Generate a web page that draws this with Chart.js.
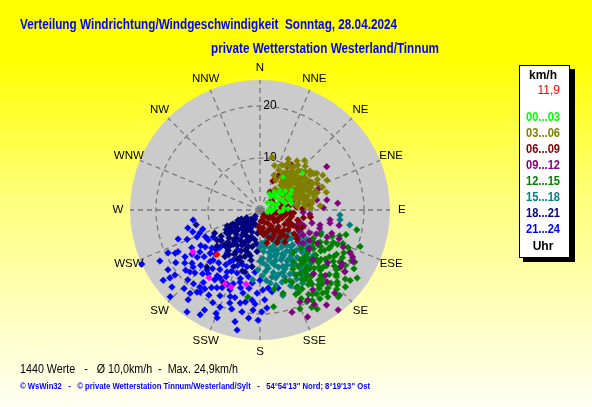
<!DOCTYPE html>
<html lang="de">
<head>
  <meta charset="UTF-8" />
  <title>Windrichtung / Windgeschwindigkeit</title>
  <script src="https://cdn.jsdelivr.net/npm/chart.js"></script>
  <style>
    html, body { margin: 0; padding: 0; }
    body { width: 592px; height: 407px; overflow: hidden;
      background: linear-gradient(to bottom, #ffff00 0%, #ffff00 14%, #ffff80 50%, #fffff4 100%); }
    #chart { position: absolute; left: 0; top: 0; }
  </style>
</head>
<body>
  <canvas id="chart" width="592" height="407"></canvas>
  <script>
    // Richtungen (16er Rose) und Ringe
    const richtungen = ['N','NNE','NE','ENE','E','ESE','SE','SSE','S','SSW','SW','WSW','W','WNW','NW','NNW'];
    const ringe = [10, 20];
    const maxKmh = 25;

    // Messwerte je Zeitraum: [Richtung in Grad, Geschwindigkeit km/h]
    const h00_03 = [[35,7.7],[49,10.8],[45,2],[40,3.2],[50,3.8],[60,4.2],[70,3.6],[80,3],[90,2.4],[55,5.2],[65,5.8],[75,5],[85,4.6],[45,5.4],[38,4.4],[62,6.6],[72,6.2],[48,4.8],[66,2.8],[95,3.8],[100,2.2],[57,2.6],[78,6.1],[88,5.4],[53,6.1],[42,4.1],[82,1.8],[105,1.4],[30,3.6],[58,7.2],[68,4.6],[92,4.4]];
    const h03_06 = [[13,10.4],[42,12.8],[66,14.1],[73,11.5],[81,10.1],[78,9.2],[62,12.5],[55,11.8],[48,11],[38,10.5],[30,9.8],[25,8.5],[35,9],[45,9.5],[52,10],[58,10.8],[64,11],[70,10.2],[76,8.5],[68,8.8],[60,9.3],[50,8.2],[42,7.8],[33,7.5],[28,6.5],[40,6.2],[48,6.8],[56,7.4],[63,7.8],[72,7],[80,7.5],[85,8.8],[66,6.2],[58,5.8],[46,5.2],[36,5],[22,7.2],[18,9],[53,9.2],[61,10],[44,10.6],[37,11.8],[57,13],[70,12.8],[75,13.2],[86,11.6],[88,9.8],[52,12.2],[29,11.2],[41,8.6],[65,9.6],[74,9.5],[82,8.6],[67,7.2],[54,6.3],[32,8.4],[47,7.5],[59,8.4],[70,5.4],[78,6.2],
      [38,6.8],[43,7.1],[47,8.1],[51,7.6],[55,8.6],[60,7.1],[64,8.3],[68,9.9],[72,8.1],[61,6.6],[49,9.1],[44,8.4],[39,9.6],[34,10.2],[58,9.8],[62,11.3],[66,10.5],[71,11.2],[77,10.8],[83,10],[54,10.6],[50,11.4],[46,12.1],[40,11.3],[31,10.6],[26,9.6],[36,7.9],[42,9.1],[56,5.1],[63,5.6],[75,7.8],[69,6.7],[53,7.1],[47,6.1],[59,10.3],[65,12.1],[73,10.6],[80,9.6],[84,7.2],[45,10.2],[51,9.7],[57,8.9],[62,8.8],[67,8.1],[73,8.8],[39,8.2],[35,8.6],[48,5.9],[56,12.5],[61,13.8]];
    const h06_09 = [[35,10.6],[24,6.1],[28,7.5],[30,4],[45,5],[55,6.5],[40,7],[60,8.2],[70,4.5],[80,5],[90,4],[100,5],[110,4.5],[120,5.5],[130,6],[115,7],[105,7.5],[95,6.5],[85,7],[75,6.5],[125,8],[135,7.2],[140,5],[128,3.5],[108,2.5],[90,2],[150,3],[160,2.5],[170,3.5],[165,4.5],[155,4.2],[145,3.8],[175,2.2],[135,2],[120,2.8],[100,3.2],[112,8.8],[100,8.5],[88,8.2],[118,6.5],[102,6.2],[122,4],[145,6.5],[150,5.5],[158,6],[132,4.8],[138,5.8],[148,4.6],[92,4.8],[82,4.2],[113,6.3],[125,6.6],[137,6.5],[128,9],[115,8],[142,7.8],[152,7],[162,5.6],[168,6.5],[172,4.8],[178,3.6],[105,4.2],[118,3.8],[96,5.8],[110,5.8],[130,2.4],[155,1.5],[140,1.2],[80,6],[72,8.8],[65,6],[50,3],[60,2.8],[82,9.5],[98,9.8],[180,3.8],[184,3.2],[176,4.3]];
    const h09_12 = [[57,15.3],[32,9.8],[61,11],[81.5,13],[98,13.6],[101,15.5],[104,10.3],[80,11.1],[93,8.3],[101,4.9],[95,9.6],[100.5,13.7],[107,12],[112,7.7],[120,9.6],[112,13.9],[114,17.5],[115.5,19.2],[119,20.5],[126,20.2],[125,19],[142,24.4],[152,19.6],[156.5,19.3],[146.5,18.4],[138,21.5],[137,18.9],[156,22.5],[162.6,20.6],[123,18.8],[117,20],[108,14.5],[104,11.9],[127.5,10.4],[116,7.9],[110,9],[115,10.5],[122,11.2],[118,8.5],[125,8.8],[130,9.5],[108,8.2],[113,11.8],[120,12.8],[128,12],[133,14],[140,16],[128,16.5],[135,17.8],[110,16.2],[150,21],[145,22.3],[70,12],[88,12.2],[85,15]];
    const h12_15 = [[101.6,19],[118.7,20.8],[172,18.8],[164.5,16.6],[142,21.2],[137,22.4],[114,15.4],[121,13],[141,12.3],[142,10.4],[188,16.9],[106,17.2],[110,20.5],[125,22.8],[150,22],[158,20.5],[160,14.5],[170,15.5],[155,17.5],
      [116,14.2],[114,16.3],[117,18.1],[121,13.6],[119,15.2],[122,16.8],[120,18.3],[123,19.6],[126,12.7],[124,14.1],[127,15.7],[125,17.2],[128,18.6],[126,20.1],[131,12.2],[129,13.8],[132,15.1],[130,16.7],[133,18.2],[131,19.4],[129,21.1],[136,12.4],[134,13.6],[137,15.3],[135,16.4],[138,17.9],[136,19.6],[134,20.7],[141,13.2],[139,14.8],[142,16.1],[140,17.6],[143,18.9],[141,20.3],[146,13.1],[144,14.6],[147,15.9],[145,17.4],[148,19.1],[146,20.6],[151,14.3],[149,15.6],[152,17.2],[150,18.7],[153,19.8],[118,11.6],[133,10.8],[147,11.8],[112,12.6],[110,14.8],[108,16.1],[113,18.4],[156,15.2],[155,18.8],[132,22.1],[122,21.3],
      [118,13.1],[122,14.6],[124,16.1],[127,17.9],[130,19.2],[133,20.3],[136,21.2],[139,19.9],[142,18.3],[145,16.7],[148,14.4],[151,13],[154,16.4],[157,17.6],[127,12.1],[131,14.4],[134,15.8],[137,17.2],[140,18.6],[143,20],[117,15.3],[120,17],[123,18.3],[126,18.9],[129,15.1],[132,16.4],[135,14.1],[138,13.1],[141,14.2],[144,15.6],[147,17.1],[150,20.1],[128,22],[138,22.5],[115,19.1],[119,20.1],[146,19.4],[152,21.2],[112,17.2],[121,11.9]];
    const h15_18 = [[93.6,15.4],[99.5,17.5],[97,15.5],[186,13.5],[177,10.2],[182,11.5],[120,11.5],[110,12.5],[165,17],[155,16.5],[145,15.5],[130,13.5],
      [150,5.2],[160,4.8],[140,6],[170,6.2],[155,6.8],[145,7.4],[135,7.8],[165,7.6],[175,8],[150,8.3],[160,9],[140,9.2],[130,9.8],[170,9.6],[155,10.1],[145,10.6],[165,11],[135,11.4],[175,11.9],[150,12.2],[160,12.8],[140,12.6],[170,13.1],[155,13.6],[145,14],[163,14.5],[152,15],[138,14.2],[128,11.8],[125,9.4],[132,8.1],[148,6.5],[158,7.3],[168,8.4],[143,8.5],[153,9.5],[163,10.2],[138,10.4],[148,11.3],[158,11.7],[168,12.3],[178,12.7],[143,13.1],[133,12.4],[122,10.6],[118,8.8],[172,14.2],[157,14.8],[128,7],[173,10.8],
      [147,9.4],[152,9.8],[157,10.4],[162,9.4],[167,10.4],[172,11.3],[177,9.3],[142,10.1],[137,9.2],[132,10.6],[127,10.9],[152,11.1],[157,12.3],[162,11.6],[167,13.4],[147,12.4],[142,11.6],[137,12.9],[152,13.9],[160,13.6],[147,15.2],[142,14.8],[135,13.2],[147,8.1],[152,7.2],[157,8.4],[162,8.1],[167,9.1],[172,7.1],[177,6.4],[142,7.4],[137,6.3],[155,5.8],[165,5.2],[145,4.6],[158,15.7],[168,14.8],[130,11.7],[125,12.2],[140,16],[150,16.3],[175,13.6],[180,9.8],[180,7.2],[170,4.9],[154,11.8],[149,10.9],[144,9.9],[159,8.9],[164,12.9]];
    const h18_21 = [[240.5,5.1],[257,12.6],[235,10.1],[207,15.6],[223,15],[193.6,12.3],[235,7.7],
      [210,2],[225,2.5],[240,3],[195,3],[215,3.8],[230,4.2],[200,4.5],[245,4.6],[220,5],[208,5.6],[235,5.8],[190,5.8],[242,5.9],[225,6.5],[212,7],[198,7.4],[240,7.5],[228,8],[218,8.4],[205,8.7],[192,9],[236,9],[222,9.6],[210,9.8],[200,10.6],[230,10.8],[217,11.2],[205,12],[188,11],[184,8],[244,4],[232,3.5],[218,1.5],[203,6.2],[243,9.8],[196,12.2],[221,7.6],[234,6.8],[186,4.5],
      [205,3.2],[220,3.6],[235,4.4],[212,4.6],[225,4.8],[198,5.4],[215,6],[230,6.2],[242,6.4],[205,6.9],[220,7],[236,7.8],[200,8.2],[213,8.1],[225,8.7],[210,9.3],[198,9.4],[232,9.5],[218,9.9],[207,7.6],[228,5.6],[238,5.2],[244,7],[203,9.9],[192,7.2],[186,6.5],[195,8.6],[216,5.3],[224,4],[208,4],[233,7.2],[226,9.6],[220,8.9],[200,6.3],[212,2.8],[230,3],[240,6.8],[215,10.5],[205,10.4],[190,9.8]];
    const h21_24 = [[245.4,25],[250.5,16.7],[261.5,13],[251.6,11.6],[246.8,13.2],[243,18.3],[243,17.7],[237,21.1],[233,21.7],[228.8,22.5],[226,24],[218.7,22.1],[215.6,24.1],[209.7,23.2],[201.7,22.3],[192.6,22],[190.8,23.5],[186,20.9],[181,21.2],[179,19.6],[177,17.3],[185,17.4],[192,18.3],[198,18.8],[207,20],[216,19.5],[220,20.9],[218,17.7],[209,17.1],[200.6,16.4],[191.6,16.3],[171.7,15.9],[167,15.4],[178,15.4],[182,16],[226,19.3],[229.6,16.9],[234.8,17.7],[221.5,15.4],[223,13.2],[233,15.1],[236,12.7],[231.6,11.8],[227,10.5],[217.5,10.4],[208,10.9],[200,12.9],[208,13.5],[210.5,15.2],[195.5,14.4],[186,14.1],[180,13.5],[174,15.1],[184.6,12],[193,11.2],[218,7.8],[209,8.8],[240,11.5],[240,10.4],[249,12.4],[241,15],[228.5,18],[232.6,20.6],[217.5,19.9],[202.4,20.2],[190,19.9],
      [214,13.8],[204,15.6],[196,17.5],[222,16.5],[213,16],[205,13],[198,11],[225,12],[210,11.5],[230,14],[219,14.5],[190,13],[215,18.5],[224,21],[238,17],[245,19.5],[234,23],
      [212,12.4],[218,12.9],[224,13.8],[229,12.7],[235,14.1],[239,13.3],[207,14.4],[213,15.1],[219,15.8],[227,15.6],[232,16.6],[237,15.6],[200,15.1],[206,16.6],[212,17.6],[218,18.8],[226,17.4],[231,18.4],[194,15.4],[199,17.6],[205,18.2],[211,19.1],[222,19.1],[188,15.2],[183,18.1],[189,17.9],[196,19.8],[203,21.6],[209,22],[176,18.9],[184,19.3],[238,19.1],[243,21.6],[248,15.1],[252,13.6],[256,14.3],[244,11.7],[228,11.4],[196,13.7],[202,11.5]];
    const letzteWerte = [[238,15.2],[216.9,16.3],[205.3,15.7],[200.6,15.8],[190.7,14.5]];
    const aktuell = [[224,11.9]];
    const aktuellText = '11,9';

    const zeitraeume = ['00...03','03...06','06...09','09...12','12...15','15...18','18...21','21...24'];
    const farben = ['#00ff00','#808000','#800000','#800080','#008000','#008080','#000080','#0000ff'];
    const reihen = [h00_03, h03_06, h06_09, h09_12, h12_15, h15_18, h18_21, h21_24];

    function toXY(arr) {
      return arr.map(([d, v]) => ({
        x: v * Math.sin(d * Math.PI / 180),
        y: v * Math.cos(d * Math.PI / 180)
      }));
    }

    const punkt = (data, col, r) => ({
      data: toXY(data),
      backgroundColor: col,
      borderColor: col,
      borderWidth: 0.6,
      pointStyle: 'rectRot',
      pointRadius: r,
      pointHoverRadius: r
    });

    // index 0 wird zuletzt (oben) gezeichnet
    const datasets = [punkt(aktuell, '#ff0000', 3.3), punkt(letzteWerte, '#ff00ff', 3.3)];
    reihen.forEach((r, i) => datasets.push(punkt(r, farben[i], i === 0 ? 2.6 : 3.3)));

    const rosePlugin = {
      id: 'rose',
      beforeDatasetsDraw(chart) {
        const ctx = chart.ctx;
        const sx = chart.scales.x, sy = chart.scales.y;
        const cx = sx.getPixelForValue(0), cy = sy.getPixelForValue(0);
        const rad = v => sx.getPixelForValue(v) - cx;
        ctx.save();
        // Scheibe
        ctx.fillStyle = '#cbcbcb';
        ctx.beginPath();
        ctx.arc(cx, cy, rad(maxKmh), 0, Math.PI * 2);
        ctx.fill();
        // Ringe + Speichen gestrichelt
        ctx.strokeStyle = '#7a7a7a';
        ctx.lineWidth = 1.3;
        ctx.setLineDash([5, 4]);
        ringe.forEach(r => {
          ctx.beginPath();
          ctx.arc(cx, cy, rad(r), 0, Math.PI * 2);
          ctx.stroke();
        });
        richtungen.forEach((n, i) => {
          const a = i * 22.5 * Math.PI / 180;
          ctx.beginPath();
          ctx.moveTo(cx, cy);
          ctx.lineTo(sx.getPixelForValue(maxKmh * Math.sin(a)), sy.getPixelForValue(maxKmh * Math.cos(a)));
          ctx.stroke();
        });
        ctx.setLineDash([]);
        // Ringbeschriftung
        ctx.fillStyle = '#000';
        ctx.font = '12px "Liberation Sans", Arial, sans-serif';
        ctx.textAlign = 'center';
        ctx.textBaseline = 'middle';
        ringe.forEach(r => ctx.fillText(String(r), cx + 10, sy.getPixelForValue(r)));
        // Himmelsrichtungen
        ctx.font = '11.5px "Liberation Sans", Arial, sans-serif';
        const lr = 27.3;
        richtungen.forEach((n, i) => {
          const a = i * 22.5 * Math.PI / 180;
          ctx.fillText(n, sx.getPixelForValue(lr * Math.sin(a)), sy.getPixelForValue(lr * Math.cos(a)));
        });
        ctx.restore();
      },
      afterDraw(chart) {
        const ctx = chart.ctx;
        ctx.save();
        ctx.textBaseline = 'middle';
        ctx.textAlign = 'left';
        ctx.fillStyle = '#0000ff';
        ctx.font = 'bold 14px "Liberation Sans", Arial, sans-serif';
        ctx.fillText('Verteilung Windrichtung/Windgeschwindigkeit  Sonntag, 28.04.2024', 20, 25, 377);
        ctx.fillText('private Wetterstation Westerland/Tinnum', 211, 49, 228);
        // Fusszeilen
        ctx.fillStyle = '#000';
        ctx.font = '12px "Liberation Sans", Arial, sans-serif';
        ctx.fillText('1440 Werte   -   Ø 10,0km/h  -  Max. 24,9km/h', 20, 370, 218);
        ctx.fillStyle = '#0000ff';
        ctx.font = 'bold 9px "Liberation Sans", Arial, sans-serif';
        ctx.fillText('© WsWin32   -   © private Wetterstation Tinnum/Westerland/Sylt   -   54°54\'13\'\' Nord; 8°19\'13\'\' Ost', 20, 387, 350);
        // Legende
        ctx.fillStyle = '#000';
        ctx.fillRect(523, 69, 52, 193);
        ctx.fillStyle = '#fff';
        ctx.fillRect(519, 65, 51, 193);
        ctx.strokeStyle = '#000';
        ctx.lineWidth = 1;
        ctx.strokeRect(519.5, 65.5, 50, 192);
        ctx.textAlign = 'center';
        ctx.fillStyle = '#000';
        ctx.font = 'bold 12px "Liberation Sans", Arial, sans-serif';
        ctx.fillText('km/h', 543, 76);
        ctx.fillText('Uhr', 543, 247);
        ctx.textAlign = 'right';
        ctx.fillStyle = '#ff0000';
        ctx.font = '12px "Liberation Sans", Arial, sans-serif';
        ctx.fillText(aktuellText, 560, 91);
        ctx.textAlign = 'left';
        ctx.font = 'bold 12px "Liberation Sans", Arial, sans-serif';
        zeitraeume.forEach((z, i) => {
          ctx.fillStyle = farben[i];
          ctx.fillText(z, 526, 118 + i * 16, 34);
        });
        ctx.restore();
      }
    };

    new Chart(document.getElementById('chart').getContext('2d'), {
      type: 'scatter',
      data: { datasets },
      options: {
        responsive: false,
        animation: false,
        layout: { padding: { left: 130, right: 202, top: 80, bottom: 67 } },
        scales: {
          x: { type: 'linear', min: -maxKmh, max: maxKmh, display: false },
          y: { type: 'linear', min: -maxKmh, max: maxKmh, display: false }
        },
        plugins: { legend: { display: false }, tooltip: { enabled: false } }
      },
      plugins: [rosePlugin]
    });
  </script>
</body>
</html>
